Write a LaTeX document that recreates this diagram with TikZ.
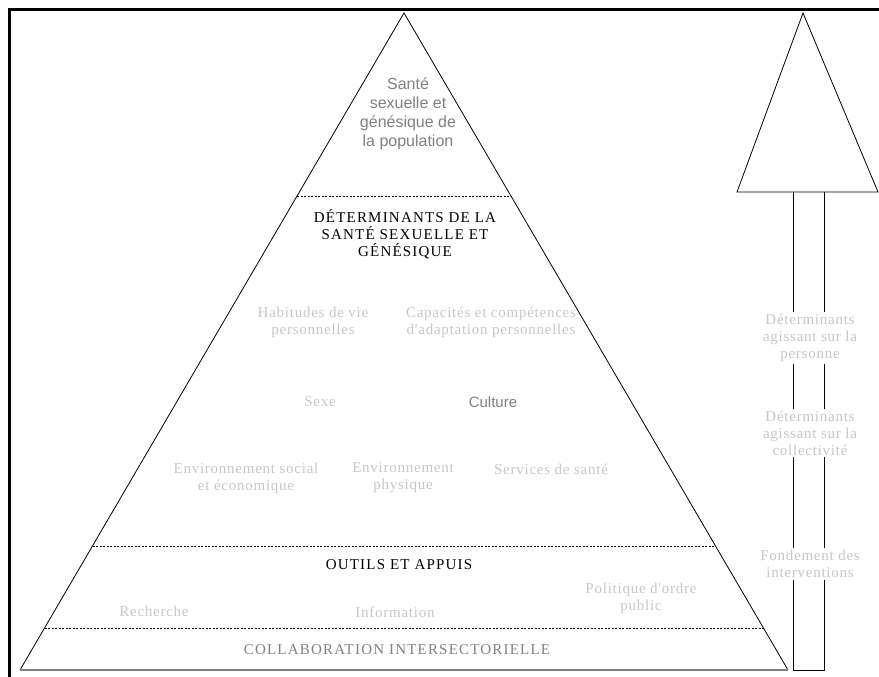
\documentclass[tikz,border=0pt]{standalone}
\usepackage{fontspec}
\setmainfont{Liberation Serif}
\setsansfont{Liberation Sans}
\newfontfamily\lblfont[LetterSpace=5]{Liberation Serif}
\newfontfamily\capfont[LetterSpace=8]{Liberation Serif}
\usepackage{xcolor}
\usepackage{tikz}
\usetikzlibrary{positioning, calc}
\definecolor{lightlbl}{gray}{0.78}
\definecolor{midlbl}{gray}{0.5}
\definecolor{baseln}{gray}{0.5}

\begin{document}
\begin{tikzpicture}[x=1pt, y=-1pt,
    faint/.style={text=lightlbl, align=center, font={\lblfont\fontsize{15}{17}\selectfont}},
    heading/.style={text=black, align=center, font={\capfont\fontsize{15}{17}\selectfont}},
    sidelbl/.style={faint, fill=white, inner sep=2pt}]
      \useasboundingbox (0,0) rectangle (879,677);
      % frame
      \draw [line width=3.5pt] (879,9.7) -- (9.7,9.7) -- (9.7,677);

      % pyramid
      \coordinate (apex) at (404,13);
      \coordinate (bl) at (20,670);
      \coordinate (br) at (788,670);
      \draw [line width=0.8pt] (bl) -- (apex) -- (br);
      \draw [baseln, line width=2pt] (bl) -- (br);
      \draw [dash pattern=on 2pt off 1.5pt] (297,196) -- (511,196);
      \draw [dash pattern=on 2pt off 1.5pt] (92.5,546) -- (715.5,546);
      \draw [dash pattern=on 2pt off 1.5pt] (44.5,628) -- (763.5,628);

      % arrow on the right
      \draw [line width=0.8pt] (737,192) -- (803,13) -- (878,192) -- cycle;
      \draw [line width=0.8pt] (793,192) -- (793,670) -- (824,670) -- (824,192);

      \node [align=center, text=midlbl, font={\sffamily\fontsize{16}{19}\selectfont}] (sante) at (408,114) {Santé\\sexuelle et\\génésique de\\la population};
      \node [heading] (det) at (405,234) {DÉTERMINANTS DE LA\\SANTÉ SEXUELLE ET\\GÉNÉSIQUE};

      \node [faint] (habitudes) at (313,322) {Habitudes de vie\\personnelles};
      \node [faint] (capacites) at (491,322) {Capacités et compétences\\d'adaptation personnelles};
      \node [faint] (sexe) at (320,402) {Sexe};
      \node [text=midlbl, font={\sffamily\fontsize{15}{17}\selectfont}] (culture) at (493,402) {Culture};
      \node [faint] (envsoc) at (246,478) {Environnement social\\et économique};
      \node [faint] (envphys) at (403,478) {Environnement\\physique};
      \node [faint] (services) at (551,469) {Services de santé};

      \node [heading] (outils) at (399,565) {OUTILS ET APPUIS};
      \node [faint] (recherche) at (154,611) {Recherche};
      \node [faint] (information) at (395,612) {Information};
      \node [faint] (politique) at (641,598) {Politique d'ordre\\public};
      \node [heading, text=midlbl] (collab) at (397,650) {COLLABORATION INTERSECTORIELLE};

      \node [sidelbl] (personne) at (810,338) {Déterminants\\agissant sur la\\personne};
      \node [sidelbl] (collectivite) at (810,433) {Déterminants\\agissant sur la\\collectivité};
      \node [sidelbl] (fondement) at (810,564) {Fondement des\\interventions};
\end{tikzpicture}
\end{document}
